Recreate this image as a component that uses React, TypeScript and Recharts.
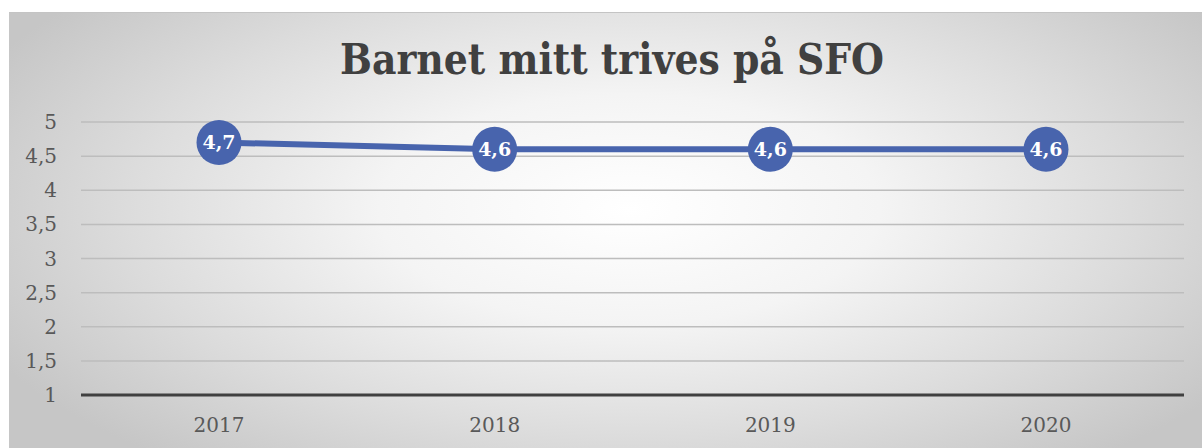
import { CartesianGrid, LabelList, Line, LineChart, XAxis, YAxis } from 'recharts';

const years = ['2017', '2018', '2019', '2020'];
const scores = [4.7, 4.6, 4.6, 4.6];
const yTicks = [1, 1.5, 2, 2.5, 3, 3.5, 4, 4.5, 5];

const data = years.map((year, i) => ({ year, score: scores[i] }));

const comma = (v: any) => String(v).replace('.', ',');

const App = () => {
  return (
    <div
      style={{
        position: 'absolute',
        left: 9,
        top: 12,
        width: 1193,
        height: 436,
        borderTop: '1px solid #c4c4c4',
        background:
          'radial-gradient(ellipse 60% 75% at 52% 45%, #ffffff 0%, #f4f4f4 35%, #dcdcdc 70%, #c6c6c6 100%)',
      }}
    >
      <div
        style={{
          position: 'absolute',
          left: 0,
          width: 1206,
          top: 22,
          textAlign: 'center',
          fontFamily: '"DejaVu Serif Condensed", "DejaVu Serif", serif',
          fontWeight: 'bold',
          fontSize: 42,
          color: '#404040',
        }}
      >
        Barnet mitt trives på SFO
      </div>
      <LineChart
        width={1193}
        height={435}
        data={data}
        margin={{ top: 109, right: 18, bottom: 0, left: 0 }}
      >
        <CartesianGrid vertical={false} stroke="#bdbdbd" strokeWidth={1.5} />
        <XAxis
          dataKey="year"
          height={53}
          padding={{ left: 138, right: 138 }}
          axisLine={{ stroke: '#404040', strokeWidth: 3 }}
          tickLine={false}
          tickSize={0}
          tickMargin={23}
          tick={{ fill: '#595959', fontSize: 20, fontFamily: '"DejaVu Serif", serif' }}
        />
        <YAxis
          width={72}
          domain={[1, 5]}
          ticks={yTicks}
          tickFormatter={comma}
          axisLine={false}
          tickLine={false}
          tickSize={0}
          tickMargin={24}
          tick={{ fill: '#595959', fontSize: 20, fontFamily: '"DejaVu Serif", serif' }}
        />
        <Line
          type="linear"
          dataKey="score"
          stroke="#4864ad"
          strokeWidth={6}
          dot={{ r: 22.5, fill: '#4864ad', stroke: 'none' }}
          activeDot={false}
          isAnimationActive={false}
        >
          <LabelList
            dataKey="score"
            position="center"
            formatter={comma}
            fill="#ffffff"
            fontSize={19}
            fontWeight="bold"
            fontFamily='"DejaVu Serif", serif'
          />
        </Line>
      </LineChart>
    </div>
  );
};

export default App;
